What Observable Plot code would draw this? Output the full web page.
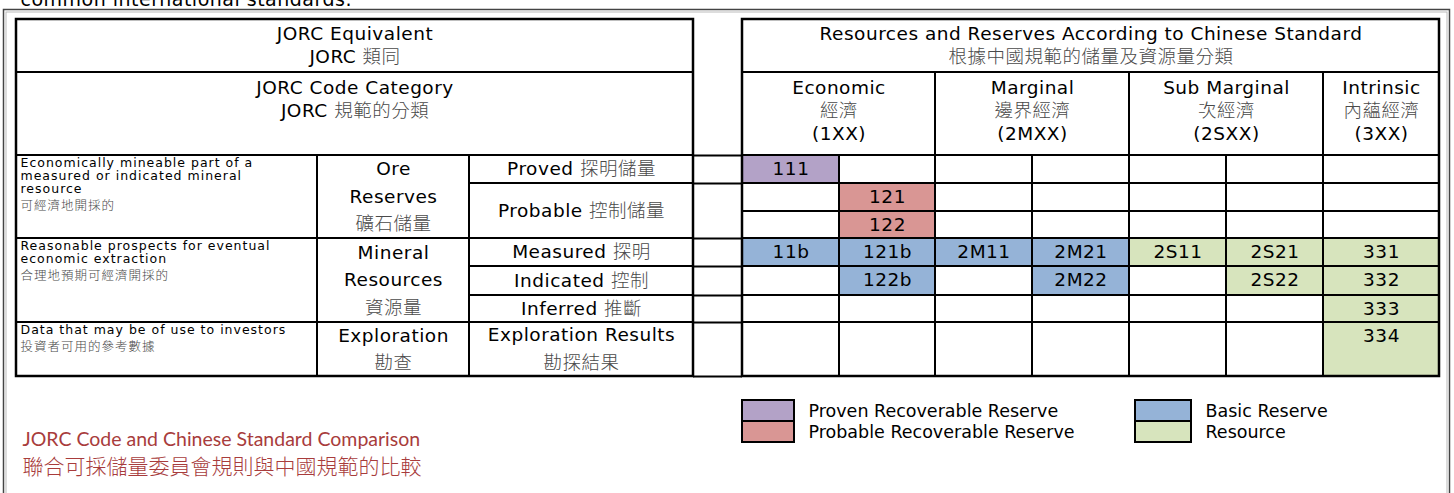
<!DOCTYPE html>
<html><head><meta charset="utf-8">
<script src="https://cdn.jsdelivr.net/npm/d3@7"></script>
<script src="https://cdn.jsdelivr.net/npm/@observablehq/plot@0.6"></script>
<style>
html,body{margin:0;padding:0;background:#fff;}
#chart{position:relative;width:1454px;height:493px;overflow:hidden;}
#chart svg{display:block;letter-spacing:0.5px;}
.zh{font-family:"Noto Sans CJK TC","Noto Sans CJK SC",sans-serif;font-weight:300;}
</style>
</head><body><div id="chart"></div>
<script>
// ---------------- data ----------------
const introText = "common international standards.";
const jorcHeader = ["JORC Equivalent", "JORC 類同"];
const jorcSubHeader = ["JORC Code Category", "JORC 規範的分類"];
const chinaHeader = ["Resources and Reserves According to Chinese Standard", "根據中國規範的儲量及資源量分類"];
const categoryNames = ["Economic", "Marginal", "Sub Marginal", "Intrinsic"];
const categoryNamesZh = ["經濟", "邊界經濟", "次經濟", "內蘊經濟"];
const categoryCodes = ["(1XX)", "(2MXX)", "(2SXX)", "(3XX)"];
const subColumnsPerCategory = [2, 2, 2, 1];
const descriptions = [
  ["Economically mineable part of a", "measured or indicated mineral", "resource", "可經濟地開採的"],
  ["Reasonable prospects for eventual", "economic extraction", "合理地預期可經濟開採的"],
  ["Data that may be of use to investors", "投資者可用的參考數據"]
];
const groupNames = [["Ore", "Reserves", "礦石儲量"], ["Mineral", "Resources", "資源量"], ["Exploration", "勘查"]];
const classesPerGroup = [2, 3, 1];
const jorcClasses = [["Proved 探明儲量"], ["Probable 控制儲量"], ["Measured 探明"], ["Indicated 控制"], ["Inferred 推斷"], ["Exploration Results", "勘探結果"]];
const gradesPerClass = [1, 2, 1, 1, 1, 1];
const cellCodes = [
  ["111", "", "", "", "", "", ""],
  ["", "121", "", "", "", "", ""],
  ["", "122", "", "", "", "", ""],
  ["11b", "121b", "2M11", "2M21", "2S11", "2S21", "331"],
  ["", "122b", "", "2M22", "", "2S22", "332"],
  ["", "", "", "", "", "", "333"],
  ["", "", "", "", "", "", "334"]
];
const legendNames = ["Proven Recoverable Reserve", "Probable Recoverable Reserve", "Basic Reserve", "Resource"];
const provenCodes = ["111"];
const probableCodes = ["121", "122"];
const basicCodes = ["11b", "121b", "2M11", "2M21", "122b", "2M22"];
const resourceCodes = ["2S11", "2S21", "2S22", "331", "332", "333", "334"];
const caption = ["JORC Code and Chinese Standard Comparison", "聯合可採儲量委員會規則與中國規範的比較"];

// ---------------- layout (pixel frame) ----------------
const W = 1454, H = 493;
const X = {left: [16, 317, 469, 693], right: [742, 839, 935, 1032, 1129, 1226, 1323, 1439]};
const Y = {top: 19, head: 72, grid: [155, 183, 211, 238, 266, 295, 322, 376]};
const legendX = [742, 1135], legendBoxW = [52, 56], legendTop = 400, legendRowH = 21;
const captionY = [439, 467];
const colors = ["#b3a2c7", "#d99694", "#95b3d7", "#d7e4bd"];
const EN = "'DejaVu Sans', sans-serif";
const cjk = /([\u2E80-\u9FFF\uF900-\uFAFF\uFF00-\uFFEF]+)/;

function spansOf(counts, edges) {
  let k = 0;
  return counts.map(n => { const s = [edges[k], edges[k + n]]; k += n; return s; });
}
const classSpans = spansOf(gradesPerClass, Y.grid);
const classEdges = [Y.grid[0], ...classSpans.map(s => s[1])];
const groupSpans = spansOf(classesPerGroup, classEdges);
const categorySpans = spansOf(subColumnsPerCategory, X.right);
const mid = (a, b) => (a + b) / 2;
function lines(list, x, y0, step, centered) {
  const off = centered ? -(list.length - 1) / 2 * step : 0;
  return list.map((t, i) => ({x, y: y0 + off + i * step, text: t}));
}
// small notes: a little more room before a Chinese line
function noteLines(list, x, y0) {
  let y = y0;
  return list.map((t, i) => {
    if (i > 0) y += cjk.test(t) ? 17 : 13;
    return {x, y, text: t};
  });
}
function classOf(code) {
  if (provenCodes.includes(code)) return legendNames[0];
  if (probableCodes.includes(code)) return legendNames[1];
  if (basicCodes.includes(code)) return legendNames[2];
  if (resourceCodes.includes(code)) return legendNames[3];
  return null;
}

// cells
const cells = [];
cellCodes.forEach((row, r) => row.forEach((code, c) => {
  cells.push({x1: X.right[c], x2: X.right[c + 1], y1: Y.grid[r], y2: Y.grid[r + 1], code, cls: classOf(code)});
}));
const filled = cells.filter(d => d.cls);

const borders = [
  {x1: X.left[0], x2: X.left[3], y1: Y.top, y2: Y.head},
  {x1: X.left[0], x2: X.left[3], y1: Y.head, y2: Y.grid[0]},
  ...groupSpans.map(([a, b]) => ({x1: X.left[0], x2: X.left[1], y1: a, y2: b})),
  ...groupSpans.map(([a, b]) => ({x1: X.left[1], x2: X.left[2], y1: a, y2: b})),
  ...classSpans.map(([a, b]) => ({x1: X.left[2], x2: X.left[3], y1: a, y2: b})),
  {x1: X.right[0], x2: X.right[7], y1: Y.top, y2: Y.head},
  ...categorySpans.map(([a, b]) => ({x1: a, x2: b, y1: Y.head, y2: Y.grid[0]})),
  ...cells
];
const outerTables = [
  {x1: X.left[0], x2: X.left[3], y1: Y.top, y2: classEdges[classEdges.length - 1]},
  {x1: X.right[0], x2: X.right[7], y1: Y.top, y2: Y.grid[Y.grid.length - 1]}
];

// text
const centerText = [
  ...lines(jorcHeader, mid(X.left[0], X.left[3]), mid(Y.top, Y.head), 23, true),
  ...lines(jorcSubHeader, mid(X.left[0], X.left[3]), Y.head + 16, 23, false),
  ...lines(chinaHeader, mid(X.right[0], X.right[7]), mid(Y.top, Y.head), 23, true),
  ...categorySpans.flatMap(([a, b], i) => lines([categoryNames[i], categoryNamesZh[i], categoryCodes[i]], mid(a, b), Y.head + 16, 23, false)),
  ...groupSpans.flatMap(([a, b], i) => lines(groupNames[i], mid(X.left[1], X.left[2]), mid(a, b), 27.5, true)),
  ...classSpans.flatMap(([a, b], i) => lines(jorcClasses[i], mid(X.left[2], X.left[3]), mid(a, b), 28, true)),
  ...cells.filter(d => d.code).map(d => ({x: mid(d.x1, d.x2), y: d.y1 + 14, text: d.code}))
];
const smallText = groupSpans.flatMap(([a, b], i) => noteLines(descriptions[i], X.left[0] + 4, a + 7));
const legendItems = legendNames.map((name, i) => {
  const col = Math.floor(i / 2), row = i % 2;
  return {name, x1: legendX[col], x2: legendX[col] + legendBoxW[col], y1: legendTop + row * legendRowH, y2: legendTop + (row + 1) * legendRowH};
});

const plot = Plot.plot({
  width: W, height: H, margin: 0,
  x: {domain: [0, W], range: [0, W], axis: null},
  y: {domain: [0, H], range: [0, H], axis: null},
  color: {domain: legendNames, range: colors},
  style: {background: "white", fontFamily: EN},
  marks: [
    // outer frame
    Plot.rect([{x1: 3.5, x2: 1449.5, y1: 9.5, y2: H + 20}], {x1: "x1", x2: "x2", y1: "y1", y2: "y2", fill: "none", stroke: "#444", strokeWidth: 1.5}),
    Plot.rect([{x1: 6, x2: 1447, y1: 12, y2: H + 20}], {x1: "x1", x2: "x2", y1: "y1", y2: "y2", fill: "none", stroke: "#bbb", strokeWidth: 1}),
    Plot.text([introText], {x: () => 20, y: () => -1, text: d => d, textAnchor: "start", fontSize: 19, fill: "#000"}),
    // coloured cells
    Plot.rect(filled, {x1: "x1", x2: "x2", y1: "y1", y2: "y2", fill: "cls"}),
    // grid lines
    Plot.rect(borders, {x1: "x1", x2: "x2", y1: "y1", y2: "y2", fill: "none", stroke: "#000", strokeWidth: 2}),
    Plot.rect(outerTables, {x1: "x1", x2: "x2", y1: "y1", y2: "y2", fill: "none", stroke: "#000", strokeWidth: 2.5}),
    // connectors between tables
    Plot.ruleY(classEdges, {x1: X.left[3], x2: X.right[0], stroke: "#000", strokeWidth: 2}),
    // texts
    Plot.text(centerText, {x: "x", y: "y", text: "text", textAnchor: "middle", fontSize: 18.5, fill: "#000"}),
    Plot.text(smallText, {x: "x", y: "y", text: "text", textAnchor: "start", fontSize: 12.5, fill: "#000"}),
    // legend
    Plot.rect(legendItems, {x1: "x1", x2: "x2", y1: "y1", y2: "y2", fill: "name", stroke: "#000", strokeWidth: 2}),
    Plot.text(legendItems, {x: d => d.x2 + 14, y: d => (d.y1 + d.y2) / 2, text: "name", textAnchor: "start", fontSize: 17.5, fill: "#000"}),
    // caption
    Plot.text(caption.map((t, i) => ({t, i})), {x: () => 22, y: d => captionY[d.i], text: "t", textAnchor: "start", fontSize: d => d.i ? 21 : 19.5, fill: "#a83c3c", fontFamily: "Lato, 'Open Sans', sans-serif"})
  ]
});

// style CJK runs as separate tspans (thin grey Chinese glyphs)
plot.querySelectorAll("text").forEach(t => {
  const tspans = t.querySelectorAll("tspan");
  const targets = tspans.length ? Array.from(tspans) : [t];
  targets.forEach(el => {
    const s = el.textContent;
    if (!cjk.test(s)) return;
    el.textContent = "";
    s.split(cjk).forEach(part => {
      if (!part) return;
      const ts = document.createElementNS("http://www.w3.org/2000/svg", "tspan");
      ts.textContent = part;
      if (cjk.test(part)) ts.setAttribute("class", "zh");
      el.appendChild(ts);
    });
  });
});
document.getElementById("chart").appendChild(plot);
const noteSet = new Set(descriptions.flat());
const legendSet = new Set(legendNames);
plot.querySelectorAll("text").forEach(t => {
  if (noteSet.has(t.textContent)) t.style.letterSpacing = "1px";
  if (legendSet.has(t.textContent)) t.style.letterSpacing = "0px";
  if (caption.includes(t.textContent)) t.style.letterSpacing = "0px";
});
// grey only the black Chinese text (caption keeps its colour)
plot.querySelectorAll("tspan.zh").forEach(ts => {
  const f = getComputedStyle(ts.parentNode).fill;
  if (f === "rgb(0, 0, 0)") ts.style.fill = "#4a4a4a";
});
</script>
</body></html>
